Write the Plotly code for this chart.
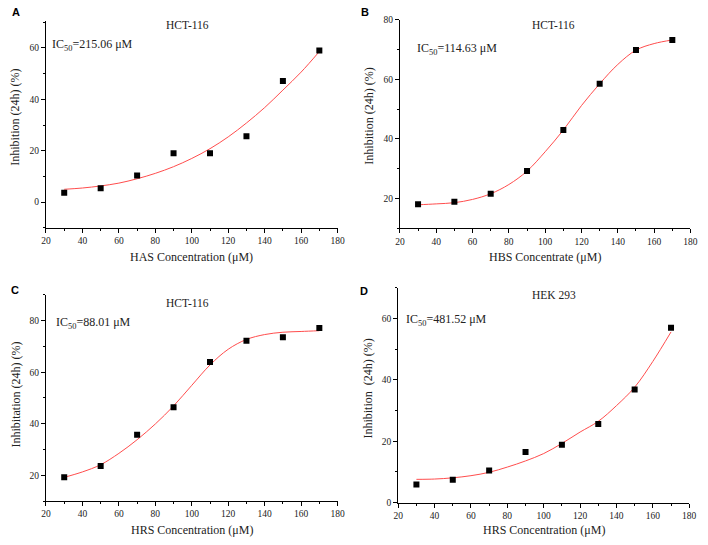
import plotly.graph_objects as go

# measured points
conc = [30, 50, 70, 90, 110, 130, 150, 170]
inhib_a = [3.7, 5.4, 10.4, 19.0, 19.0, 25.6, 47.1, 59.0]
inhib_b = [18.1, 18.9, 21.6, 29.2, 43.0, 58.5, 69.8, 73.2]
inhib_c = [19.2, 23.6, 35.7, 46.4, 64.0, 72.2, 73.6, 77.1]
inhib_d = [5.9, 7.5, 10.5, 16.5, 18.9, 25.6, 36.9, 57.0]

# fitted curves
fit_x = [30, 40, 50, 60, 70, 80, 90, 100, 110, 120, 130, 140, 150, 160, 170]
fit_a = [5.0, 5.5, 6.3, 7.4, 9.1, 11.2, 13.8, 17.0, 20.8, 25.4, 30.8, 36.8, 43.6, 50.6, 58.6]
fit_b = [17.9, 18.2, 18.6, 19.7, 21.6, 24.7, 29.2, 35.7, 43.0, 51.2, 58.5, 65.0, 69.8, 72.0, 73.2]
fit_c = [19.2, 21.3, 24.1, 28.5, 33.8, 39.9, 46.9, 54.9, 62.8, 68.9, 72.7, 74.6, 75.5, 75.8, 76.1]
fit_d = [7.6, 7.7, 8.1, 8.8, 9.9, 11.6, 13.6, 16.0, 19.3, 23.0, 26.5, 31.6, 37.6, 46.0, 55.6]

letters = ["A", "B", "C", "D"]
cells = ["HCT-116", "HCT-116", "HCT-116", "HEK 293"]
ic50 = ["215.06", "114.63", "88.01", "481.52"]
x_titles = ["HAS Concentration (μM)", "HBS Concentrate (μM)",
            "HRS Concentration (μM)", "HRS Concentration (μM)"]
y_titles = ["Inhibition (24h) (%)", "Inhibition (24h) (%)",
            "Inhibitation (24h) (%)", "Inhibition  (24h) (%)"]
y_ranges = [[-10, 70.6], [10, 80], [10, 90], [0, 70]]

points = [inhib_a, inhib_b, inhib_c, inhib_d]
fits = [fit_a, fit_b, fit_c, fit_d]

W, H = 708, 545
# plot boxes in pixels: left, right, top, bottom
boxes = [(41.7, 338.3, 16, 227), (401.7, 697.3, 15, 227.5),
         (41.7, 338.3, 295.3, 505.3), (400, 696, 288, 507)]
ytitle_pos = [(10, 114), (370, 113), (11, 397), (369, 391)]
xtitle_y = [257, 257, 535, 535]
ic_pos = [(46, 41), (417, 45), (50, 324), (406, 321)]
title_pos = [(186, 20), (558, 20), (186, 304), (558, 295)]
letter_pos = [(5, 7), (360, 7), (4, 290), (359, 291)]

serif = "Liberation Serif"
fig = go.Figure()
annotations = []

for i in range(4):
    n = "" if i == 0 else str(i + 1)
    l, r, t, b = boxes[i]
    fig.add_trace(go.Scatter(x=fit_x, y=fits[i], mode="lines", line_shape="spline",
                             line=dict(color="#ff4d4d", width=1),
                             xaxis="x" + n, yaxis="y" + n, showlegend=False))
    fig.add_trace(go.Scatter(x=conc, y=points[i], mode="markers",
                             marker=dict(symbol="square", size=6, color="black"),
                             xaxis="x" + n, yaxis="y" + n, showlegend=False))
    common = dict(showline=True, linecolor="black", linewidth=1, showgrid=False,
                  zeroline=False, ticks="outside", ticklen=4, tickcolor="black",
                  ticklabeloverflow="allow",
                  tickfont=dict(family=serif, size=9.5, color="#222"),
                  minor=dict(ticks="outside", ticklen=2, tickcolor="black", dtick=10))
    fig.layout["xaxis" + n] = dict(common, domain=[l / W, r / W], range=[20, 180],
                                   dtick=20, anchor="y" + n)
    fig.layout["yaxis" + n] = dict(common, domain=[1 - b / H, 1 - t / H],
                                   range=y_ranges[i], dtick=20, anchor="x" + n)

    annotations.append(dict(x=(l + r) / 2 / W, y=1 - xtitle_y[i] / H, text=x_titles[i],
                            font=dict(family=serif, size=12, color="#222")))
    annotations.append(dict(x=ytitle_pos[i][0] / W, y=1 - ytitle_pos[i][1] / H,
                            text=y_titles[i], textangle=-90,
                            font=dict(family=serif, size=12, color="#222")))
    annotations.append(dict(x=title_pos[i][0] / W, y=1 - title_pos[i][1] / H, text=cells[i],
                            font=dict(family=serif, size=11.5, color="#222")))
    annotations.append(dict(x=ic_pos[i][0] / W, y=1 - ic_pos[i][1] / H, xanchor="left",
                            text="IC<sub>50</sub>=" + ic50[i] + " μM",
                            font=dict(family=serif, size=12, color="#222")))
    annotations.append(dict(x=letter_pos[i][0] / W, y=1 - letter_pos[i][1] / H,
                            xanchor="left", text="<b>" + letters[i] + "</b>",
                            font=dict(family="Liberation Sans", size=11, color="black")))

for a in annotations:
    a.update(xref="paper", yref="paper", showarrow=False)
    a.setdefault("xanchor", "center")
    a.setdefault("yanchor", "middle")

fig.update_layout(width=W, height=H, margin=dict(l=0, r=0, t=0, b=0),
                  plot_bgcolor="white", paper_bgcolor="white",
                  annotations=annotations)

# the page body has a default 8px margin, drop it so the figure fills the window
fig.write_html("out.html", config={"displayModeBar": False},
               post_script="document.body.style.margin = '0px';")
